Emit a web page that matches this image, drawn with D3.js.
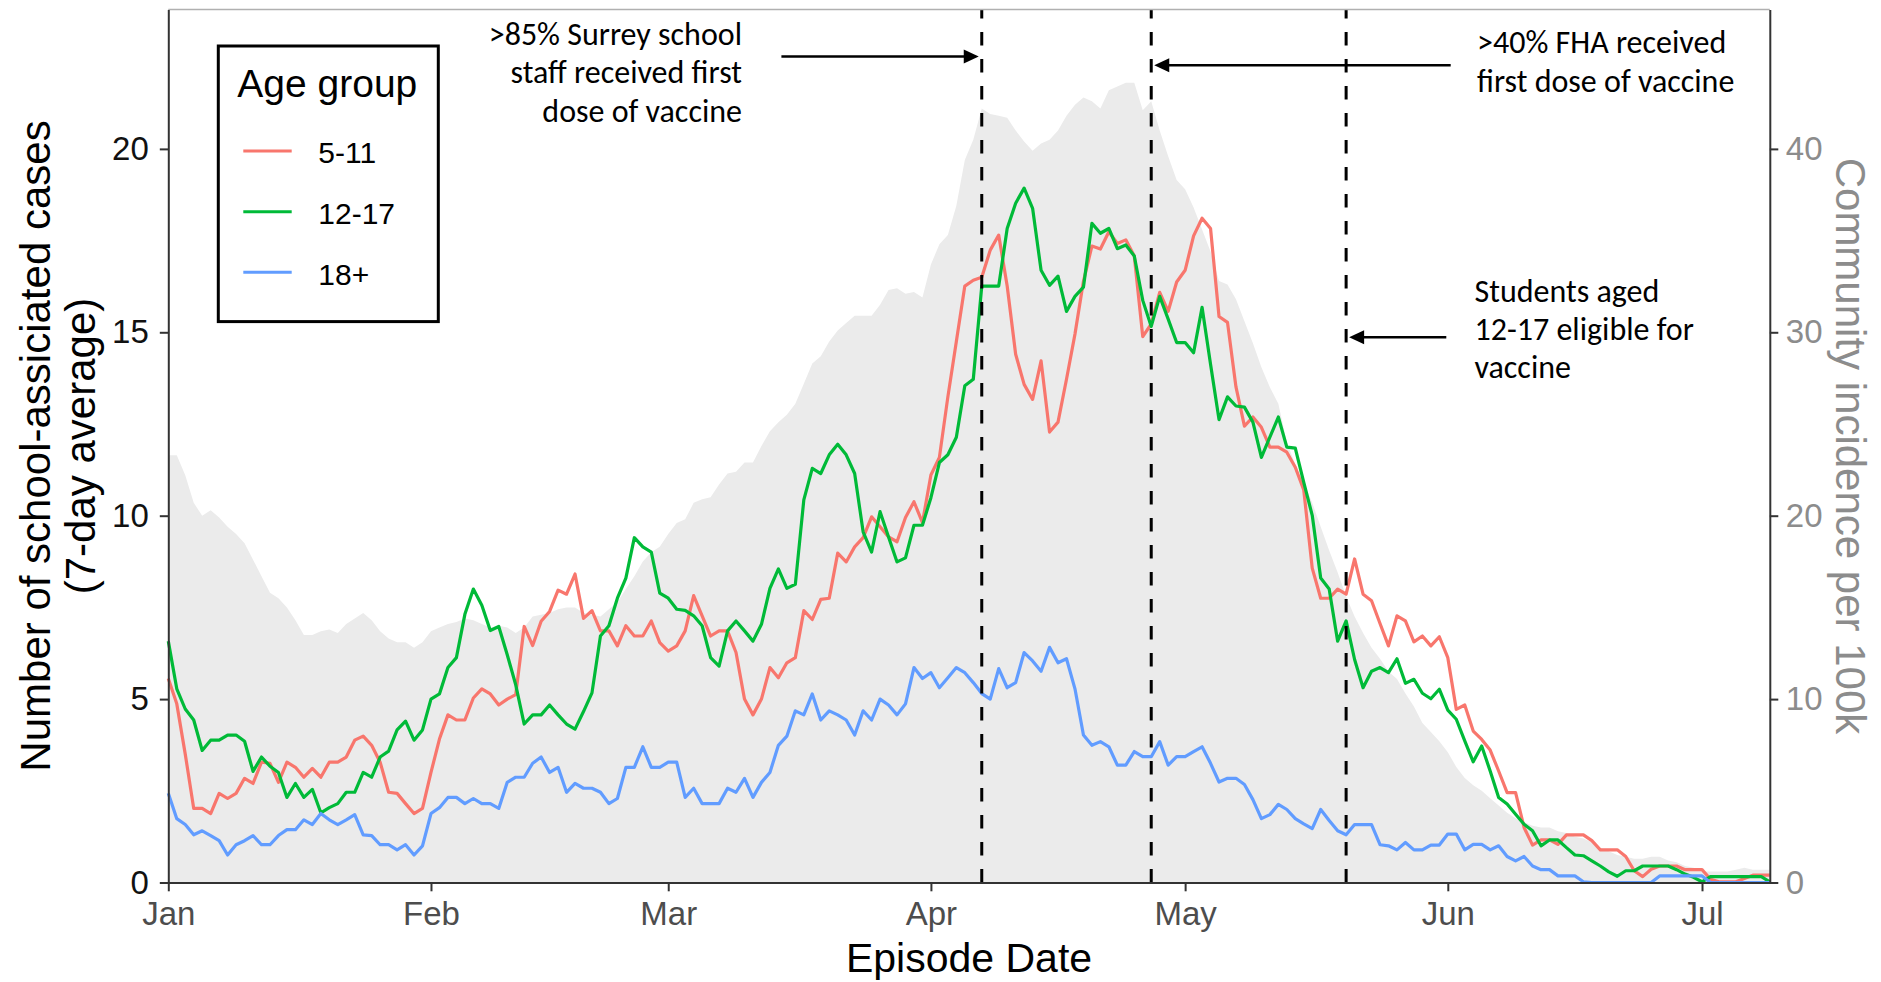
<!DOCTYPE html>
<html><head><meta charset="utf-8">
<script src="https://cdn.jsdelivr.net/npm/d3@7"></script>
<style>
html,body{margin:0;padding:0;background:#fff;}
svg{display:block;}
</style></head>
<body>
<svg id="chart" width="1881" height="982"></svg>
<script>
// ---------------- data ----------------
const startDate = "2021-01-01";
const endDate = "2021-07-09";

const cases511 = [5.56,4.87,3.5,2.02,2.02,1.88,2.43,2.29,2.43,2.84,2.7,3.28,3.25,2.73,3.28,3.14,2.87,3.11,2.87,3.28,
3.28,3.42,3.88,3.99,3.74,3.28,2.46,2.43,2.15,1.88,2.02,3.0,3.91,4.57,4.43,4.43,5.03,5.28,5.14,4.84,
5.0,5.12,6.98,6.46,7.12,7.39,7.97,7.86,8.41,7.2,7.41,6.86,6.86,6.45,7.0,6.72,6.72,7.13,6.54,6.31,
6.45,6.86,7.82,7.27,6.72,6.86,6.86,6.27,5.0,4.57,5.0,5.86,5.58,5.99,6.13,7.41,7.17,7.72,7.75,8.98,
8.74,9.15,9.4,9.97,9.7,9.42,9.29,9.95,10.38,9.81,11.11,11.59,13.24,14.75,16.26,16.42,16.5,17.24,17.65,16.26,
14.4,13.58,13.17,14.22,12.28,12.55,13.72,14.95,16.39,17.35,17.27,17.74,17.42,17.52,17.08,14.88,15.23,16.09,15.57,16.37,
16.69,17.63,18.11,17.83,15.43,15.27,13.51,12.44,12.69,12.41,11.87,11.87,11.73,11.32,10.7,8.57,7.75,7.75,8.0,7.86,
8.82,7.86,7.68,7.06,6.45,7.27,7.13,6.56,6.72,6.45,6.7,6.13,4.72,4.84,4.13,3.9,3.61,3.04,2.45,2.45,
1.5,1.02,1.16,1.16,1.04,1.3,1.3,1.3,1.14,0.89,0.89,0.89,0.71,0.32,0.16,0.36,0.45,0.45,0.45,0.35,
0.35,0.35,0.09,0.02,0.02,0.02,0.11,0.2,0.2,0.2];

const cases1217 = [6.58,5.28,4.73,4.43,3.6,3.88,3.88,4.02,4.02,3.85,3.03,3.42,3.17,3.0,2.32,2.7,2.32,2.54,1.9,2.04,
2.15,2.46,2.46,3.0,2.87,3.42,3.58,4.16,4.4,3.88,4.16,5.0,5.14,5.86,6.13,7.31,8.0,7.56,6.87,6.98,
6.21,5.39,4.32,4.57,4.57,4.84,4.57,4.32,4.18,4.66,5.17,6.72,7.0,7.75,8.3,9.4,9.15,9.01,7.89,7.75,
7.45,7.42,7.27,7.0,6.13,5.9,6.86,7.13,6.86,6.58,7.04,8.02,8.55,8.02,8.13,10.43,11.29,11.15,11.66,11.95,
11.66,11.15,9.56,9.01,10.11,9.42,8.74,8.85,9.74,9.74,10.49,11.45,11.66,12.14,13.54,13.72,16.26,16.26,16.26,17.83,
18.52,18.93,18.38,16.69,16.28,16.53,15.57,15.98,16.23,17.97,17.7,17.83,17.28,17.38,17.08,15.87,15.16,15.98,15.36,14.72,
14.72,14.44,15.68,14.13,12.62,13.24,12.99,12.96,12.55,11.59,12.14,12.69,11.87,11.84,10.91,10.01,8.3,8.0,6.58,7.13,
6.08,5.31,5.76,5.86,5.72,6.1,5.43,5.54,5.16,5.01,5.27,4.7,4.45,3.86,3.29,3.72,3.04,2.32,2.14,1.86,
1.59,1.41,1.0,1.16,1.16,0.95,0.75,0.73,0.59,0.45,0.29,0.17,0.32,0.32,0.45,0.45,0.45,0.45,0.35,0.23,
0.14,0.02,0.16,0.16,0.16,0.16,0.16,0.16,0.16,0.02];

const cases18plus = [2.43,1.74,1.58,1.3,1.41,1.28,1.14,0.75,1.03,1.14,1.28,1.03,1.03,1.28,1.44,1.44,1.71,1.58,1.88,1.71,
1.58,1.71,1.85,1.3,1.28,1.03,1.03,0.89,1.03,0.75,1.0,1.88,2.04,2.32,2.32,2.15,2.29,2.15,2.15,2.02,
2.73,2.87,2.87,3.25,3.42,3.0,3.14,2.46,2.7,2.57,2.57,2.46,2.15,2.29,3.14,3.14,3.7,3.14,3.14,3.28,
3.28,2.32,2.57,2.15,2.15,2.15,2.57,2.46,2.84,2.32,2.73,3.0,3.74,3.99,4.68,4.57,5.14,4.43,4.68,4.57,
4.43,4.02,4.68,4.43,5.0,4.84,4.57,4.87,5.86,5.56,5.72,5.31,5.58,5.86,5.72,5.45,5.15,5.0,5.83,5.31,
5.45,6.27,6.04,5.76,6.41,5.99,6.1,5.28,4.02,3.74,3.84,3.7,3.2,3.2,3.57,3.43,3.43,3.84,3.2,3.43,
3.43,3.57,3.7,3.25,2.74,2.84,2.84,2.67,2.26,1.74,1.85,2.13,1.99,1.74,1.6,1.47,1.99,1.69,1.41,1.3,
1.58,1.58,1.58,1.03,1.0,0.89,1.09,0.89,0.89,1.02,1.02,1.32,1.32,0.89,1.04,1.04,0.89,1.0,0.71,0.59,
0.71,0.45,0.35,0.35,0.18,0.18,0.18,0.02,0,0,0,0,0,0,0,0,0.18,0.18,0.18,0.18,
0.18,0.18,0,0,0,0,0,0,0,0];

const communityIncidence = [23.3,23.3,22.2,20.7,20.0,20.3,19.9,19.4,19.0,18.5,17.6,16.7,15.8,15.5,15.0,14.3,13.5,13.5,13.7,13.8,
13.6,14.1,14.4,14.7,14.3,13.7,13.3,13.1,13.1,12.8,13.1,13.7,13.9,14.1,14.2,14.4,14.3,14.1,13.9,14.0,
13.9,13.6,13.9,14.5,14.6,14.7,14.9,15.0,15.0,14.7,14.6,14.5,14.9,15.3,16.0,16.7,17.5,18.0,18.3,19.0,
19.6,19.8,20.7,20.9,21.0,21.7,22.3,22.4,22.9,22.9,23.8,24.6,25.1,25.5,26.1,27.2,28.3,28.7,29.5,30.1,
30.5,30.9,30.9,30.9,31.5,32.3,32.4,32.1,32.2,31.9,33.7,34.8,35.3,36.9,39.4,40.5,42.2,41.9,41.8,41.7,
41.0,40.4,39.9,40.3,40.5,41.0,41.8,42.4,42.8,42.6,42.2,43.2,43.4,43.6,43.6,42.1,42.6,41.0,39.6,38.3,
37.8,36.8,35.6,34.4,32.8,32.6,31.8,30.6,29.4,28.1,27.0,26.1,24.0,22.8,21.8,20.7,19.4,18.1,16.9,15.6,
14.5,13.6,12.8,12.2,11.5,11.1,10.3,9.6,8.7,8.2,7.7,7.1,6.3,5.7,5.3,5.0,4.6,4.2,3.8,3.5,
3.3,3.1,3.0,3.0,2.8,2.7,2.5,2.4,2.2,1.9,1.7,1.5,1.4,1.3,1.3,1.4,1.4,1.2,1.1,0.9,
0.8,0.6,0.6,0.6,0.6,0.7,0.8,0.7,0.7,0.7];

const ageGroups = ["5-11", "12-17", "18+"];
const monthTicks = ["2021-01-01","2021-02-01","2021-03-01","2021-04-01","2021-05-01","2021-06-01","2021-07-01"];
const leftTicks = [0, 5, 10, 15, 20];
const rightTicks = [0, 10, 20, 30, 40];
const vaccineDates = ["2021-04-07", "2021-04-27", "2021-05-20"];
const annotationTexts = [
  [">85% Surrey school", "staff received first", "dose of vaccine"],
  [">40% FHA received", "first dose of vaccine"],
  ["Students aged", "12-17 eligible for", "vaccine"]
];

// ---------------- layout ----------------
const W = 1881, H = 982;
const P = {left: 168.3, right: 1769.8, top: 9.5, bottom: 882.5};
const FONT = "'Liberation Sans', Arial, Helvetica, sans-serif";
const ANNO_FONT = "Carlito, Calibri, Lato, sans-serif";
const colors = ["#F8766D", "#00BA38", "#619CFF"];

const parse = d3.timeParse("%Y-%m-%d");
const t0 = parse(startDate);
const dates = cases511.map((_, i) => d3.timeDay.offset(t0, i));

const x = d3.scaleTime().domain([t0, parse(endDate)]).range([P.left, P.right]);
const yL = d3.scaleLinear().domain([0, 23.8]).range([P.bottom, P.top]);
const yR = d3.scaleLinear().domain([0, 47.6]).range([P.bottom, P.top]);

const svg = d3.select("#chart");
svg.append("rect").attr("width", W).attr("height", H).attr("fill", "#fff");

// community incidence area
const areaData = communityIncidence.map((v, i) => ({date: dates[i], v}));
svg.append("path")
  .datum(areaData)
  .attr("fill", "#EBEBEB")
  .attr("d", d3.area().x(d => x(d.date)).y0(yR(0)).y1(d => yR(d.v)));

// series lines
const series = [cases511, cases1217, cases18plus].map((arr, k) => ({
  name: ageGroups[k], color: colors[k],
  values: arr.map((v, i) => ({date: dates[i], v}))
}));
const line = d3.line().x(d => x(d.date)).y(d => yL(d.v));
svg.append("g").selectAll("path").data(series).join("path")
  .attr("fill", "none")
  .attr("stroke", d => d.color)
  .attr("stroke-width", 3.2)
  .attr("stroke-linejoin", "round")
  .attr("d", d => line(d.values));

// vertical dashed lines
svg.append("g").selectAll("line").data(vaccineDates).join("line")
  .attr("x1", d => x(parse(d))).attr("x2", d => x(parse(d)))
  .attr("y1", P.bottom).attr("y2", P.top)
  .attr("stroke", "#000").attr("stroke-width", 3)
  .attr("stroke-dasharray", "13.5 13.5");

// axes
function styleAxis(g, textColor) {
  g.attr("font-family", FONT).attr("font-size", 33);
  g.select(".domain").attr("stroke", "#333").attr("stroke-width", 2);
  g.selectAll(".tick line").attr("stroke", "#333").attr("stroke-width", 2);
  g.selectAll(".tick text").attr("fill", textColor);
}
// top border
svg.append("line").attr("x1", P.left).attr("x2", P.right).attr("y1", P.top).attr("y2", P.top)
  .attr("stroke", "#b0b0b0").attr("stroke-width", 1.5);

svg.append("g").attr("transform", `translate(${P.left},0)`)
  .call(d3.axisLeft(yL).tickValues(leftTicks).tickFormat(d3.format("d")).tickSize(8.5).tickPadding(11).tickSizeOuter(0))
  .call(g => styleAxis(g, "#111"));
svg.append("g").attr("transform", `translate(${P.right},0)`)
  .call(d3.axisRight(yR).tickValues(rightTicks).tickFormat(d3.format("d")).tickSize(8.5).tickPadding(7.5).tickSizeOuter(0))
  .call(g => styleAxis(g, "#8c8c8c"));
svg.append("g").attr("transform", `translate(0,${P.bottom})`)
  .call(d3.axisBottom(x).tickValues(monthTicks.map(parse)).tickFormat(d3.timeFormat("%b")).tickSize(8.8).tickPadding(10.6).tickSizeOuter(0))
  .call(g => styleAxis(g, "#4D4D4D"));

// axis titles
svg.append("text").attr("x", (P.left + P.right) / 2).attr("y", 972)
  .attr("text-anchor", "middle").attr("font-family", FONT).attr("font-size", 41).attr("fill", "#000")
  .text("Episode Date");
const lt = svg.append("text").attr("transform", `translate(50,${(P.top + P.bottom) / 2}) rotate(-90)`)
  .attr("text-anchor", "middle").attr("font-family", FONT).attr("font-size", 42).attr("fill", "#000");
lt.append("tspan").attr("x", 0).attr("y", 0).text("Number of school-assiciated cases");
lt.append("tspan").attr("x", 0).attr("y", 45).text("(7-day average)");
svg.append("text").attr("transform", `translate(1836,${(P.top + P.bottom) / 2}) rotate(90)`)
  .attr("text-anchor", "middle").attr("font-family", FONT).attr("font-size", 42).attr("fill", "#8c8c8c")
  .text("Community incidence per 100k");

// annotations (text + arrows)
const annoLayout = [
  {anchor: "end", x: 742, y: 45, lh: 38.4, arrowY: 56.5, tail: 781.4, dir: 1},
  {anchor: "start", x: 1477, y: 53.3, lh: 38.4, arrowY: 65.2, tail: 1450.7, dir: -1},
  {anchor: "start", x: 1474.5, y: 301.7, lh: 38.3, arrowY: 337.2, tail: 1446.3, dir: -1}
];
const ag = svg.append("g");
annoLayout.forEach((a, k) => {
  const t = ag.append("text").attr("text-anchor", a.anchor).attr("font-family", ANNO_FONT)
    .attr("font-size", 32).attr("fill", "#000");
  annotationTexts[k].forEach((s, j) => t.append("tspan").attr("x", a.x).attr("y", a.y + j * a.lh).text(s));
  const vx = x(parse(vaccineDates[k]));
  const tip = vx - a.dir * 3;
  const base = tip - a.dir * 15;
  ag.append("line").attr("x1", a.tail).attr("x2", base + a.dir * 2).attr("y1", a.arrowY).attr("y2", a.arrowY)
    .attr("stroke", "#000").attr("stroke-width", 2.5);
  ag.append("path").attr("fill", "#000")
    .attr("d", `M${tip},${a.arrowY} L${base},${a.arrowY - 7} L${base},${a.arrowY + 7} Z`);
});

// legend
const lg = svg.append("g");
lg.append("rect").attr("x", 218.3).attr("y", 46).attr("width", 220).attr("height", 275.6)
  .attr("fill", "#fff").attr("stroke", "#000").attr("stroke-width", 3);
lg.append("text").attr("x", 237.3).attr("y", 96.7).attr("font-family", FONT).attr("font-size", 39)
  .attr("fill", "#000").text("Age group");
series.forEach((s, i) => {
  const yy = 151 + i * 60.65;
  lg.append("line").attr("x1", 243.3).attr("x2", 291.7).attr("y1", yy).attr("y2", yy)
    .attr("stroke", s.color).attr("stroke-width", 3);
  lg.append("text").attr("x", 318.3).attr("y", yy + 12.3).attr("font-family", FONT).attr("font-size", 30)
    .attr("fill", "#000").text(s.name);
});
</script>
</body></html>
